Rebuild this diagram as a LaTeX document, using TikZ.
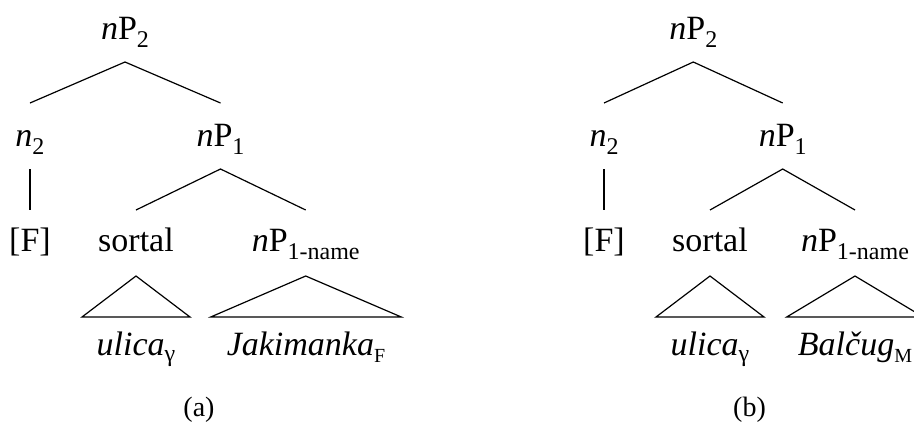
\documentclass[tikz,border=0pt]{standalone}
\usepackage{fontspec}
\setmainfont{Liberation Serif}
\usetikzlibrary{calc}
\newcommand\sbs[1]{\raisebox{-0.26em}{\fontsize{24}{24}\selectfont #1}}
\newcommand\smsub[1]{\raisebox{-0.22em}{\fontsize{20}{20}\selectfont #1}}
\newcommand\gsub[1]{\raisebox{-0.2em}{\fontsize{24}{24}\selectfont #1}}
\tikzset{
  lab/.style={anchor=base, inner sep=0pt, font=\fontsize{34}{40}\selectfont},
  br/.style={line width=1.2pt, black},
}
\begin{document}
\begin{tikzpicture}[x=1pt,y=-1pt]
\useasboundingbox (0,0) rectangle (914,426);
% ---- tree (a)
\node[lab] (a2) at (125,39) {\textit{n}P\sbs{2}};
\node[lab] (an2) at (30,146) {\textit{n}\sbs{2}};
\node[lab] (a1) at (220.5,146) {\textit{n}P\sbs{1}};
\node[lab] (aF) at (30,251) {[F]};
\node[lab] (as) at (136,251) {sortal};
\node[lab] (an) at (305.7,251) {\textit{n}P\sbs{1-name}};
\node[lab] (au) at (136,355) {\textit{ulica}\gsub{γ}};
\node[lab] (aj) at (306,355) {\textit{Jakimanka}\smsub{F}};
\node[lab] (acap) at (199,416) {\fontsize{28}{32}\selectfont(a)};
\draw[br] ($(an2.base)+(0,-43)$) -- ($(a2.base)+(0,23)$) -- ($(a1.base)+(0,-43)$);
\draw[br] ($(an2.base)+(0,23)$) -- ($(aF.base)+(0,-41)$);
\draw[br] ($(as.base)+(0,-41)$) -- ($(a1.base)+(0,23)$) -- ($(an.base)+(0,-41)$);
\draw[br] ($(as.base)+(0,25)$) -- ($(au.base)+(-54,-38)$) -- ($(au.base)+(54,-38)$) -- cycle;
\draw[br] ($(an.base)+(0,25)$) -- ($(aj.base)+(-95.3,-38)$) -- ($(aj.base)+(95.3,-38)$) -- cycle;
% ---- tree (b)
\node[lab] (b2) at (693.3,39) {\textit{n}P\sbs{2}};
\node[lab] (bn2) at (604,146) {\textit{n}\sbs{2}};
\node[lab] (b1) at (782.7,146) {\textit{n}P\sbs{1}};
\node[lab] (bF) at (604,251) {[F]};
\node[lab] (bs) at (710,251) {sortal};
\node[lab] (bn) at (855,251) {\textit{n}P\sbs{1-name}};
\node[lab] (bu) at (710,355) {\textit{ulica}\gsub{γ}};
\node[lab] (bb) at (855,355) {\textit{Balčug}\smsub{M}};
\node[lab] (bcap) at (749.5,416) {\fontsize{28}{32}\selectfont(b)};
\draw[br] ($(bn2.base)+(0,-43)$) -- ($(b2.base)+(0,23)$) -- ($(b1.base)+(0,-43)$);
\draw[br] ($(bn2.base)+(0,23)$) -- ($(bF.base)+(0,-41)$);
\draw[br] ($(bs.base)+(0,-41)$) -- ($(b1.base)+(0,23)$) -- ($(bn.base)+(0,-41)$);
\draw[br] ($(bs.base)+(0,25)$) -- ($(bu.base)+(-54,-38)$) -- ($(bu.base)+(54,-38)$) -- cycle;
\draw[br] ($(bn.base)+(0,25)$) -- ($(bb.base)+(-68.3,-38)$) -- ($(bb.base)+(68.3,-38)$) -- cycle;
\end{tikzpicture}
\end{document}
